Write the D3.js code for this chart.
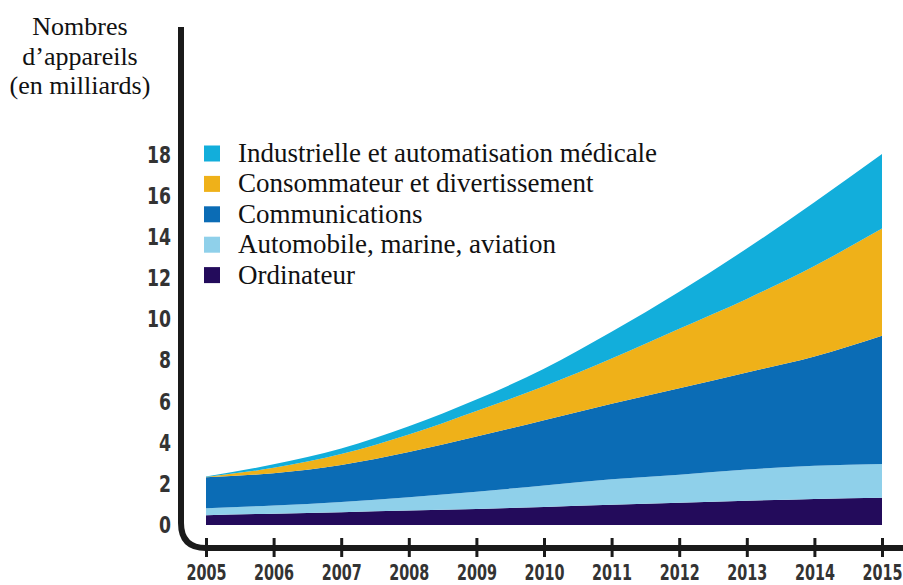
<!DOCTYPE html>
<html>
<head>
<meta charset="utf-8">
<script src="https://cdn.jsdelivr.net/npm/d3@7"></script>
<style>
  body { margin: 0; background: #fff; }
  .num { font-family: "Liberation Sans Narrow", "DejaVu Sans Condensed", sans-serif; font-stretch: condensed; font-weight: bold; }
  .serif { font-family: "Liberation Serif", "Times New Roman", serif; }
</style>
</head>
<body>
<div id="chart"></div>
<script>
// data (milliards d'appareils)
var years = [2005, 2006, 2007, 2008, 2009, 2010, 2011, 2012, 2013, 2014, 2015];
var ordinateur     = [0.48, 0.55, 0.62, 0.70, 0.78, 0.88, 0.98, 1.08, 1.18, 1.27, 1.33];
var automobile     = [0.34, 0.40, 0.50, 0.65, 0.84, 1.04, 1.24, 1.37, 1.52, 1.61, 1.64];
var communications = [1.50, 1.57, 1.80, 2.20, 2.68, 3.18, 3.68, 4.20, 4.72, 5.32, 6.24];
var consommateur   = [0.02, 0.26, 0.53, 0.85, 1.25, 1.65, 2.20, 2.90, 3.58, 4.40, 5.21];
var industrielle   = [0.02, 0.17, 0.27, 0.40, 0.55, 0.85, 1.30, 1.80, 2.45, 3.10, 3.63];
var yTicks = [0, 2, 4, 6, 8, 10, 12, 14, 16, 18];

// legend order top -> bottom
var legendNames = ["Industrielle et automatisation médicale", "Consommateur et divertissement",
  "Communications", "Automobile, marine, aviation", "Ordinateur"];
var keys = ["ordinateur", "automobile", "communications", "consommateur", "industrielle"];
var colors = {
  industrielle: "#12aedb",
  consommateur: "#efb119",
  communications: "#0b6cb5",
  automobile: "#8fd0ea",
  ordinateur: "#230b5b"
};
var legendKeys = ["industrielle", "consommateur", "communications", "automobile", "ordinateur"];

var width = 903, height = 585;

var svg = d3.select("#chart")
    .append("svg")
    .attr("width", width)
    .attr("height", height);

var x = d3.scaleLinear().domain([2005, 2015]).range([206, 882]);
var y = d3.scaleLinear().domain([0, 18]).range([525, 155]);

// build table for the stack
var table = years.map(function(yr, i) {
    return {
        year: yr,
        ordinateur: ordinateur[i],
        automobile: automobile[i],
        communications: communications[i],
        consommateur: consommateur[i],
        industrielle: industrielle[i]
    };
});

var stacked = d3.stack().keys(keys)(table);

var area = d3.area()
    .x(function(d) { return x(d.data.year); })
    .y0(function(d) { return y(d[0]); })
    .y1(function(d) { return y(d[1]); })
    .curve(d3.curveMonotoneX);

svg.append("g")
    .selectAll("path")
    .data(stacked)
    .enter()
    .append("path")
    .attr("d", area)
    .attr("fill", function(d) { return colors[d.key]; });

// axis line with rounded corner
var x0 = 181, yTop = 27, yBase = 548, r = 25;
svg.append("path")
    .attr("d", "M" + x0 + "," + yTop +
        " L" + x0 + "," + (yBase - r) +
        " Q" + x0 + "," + yBase + " " + (x0 + r) + "," + yBase +
        " L" + width + "," + yBase)
    .attr("fill", "none")
    .attr("stroke", "#1a1a1a")
    .attr("stroke-width", 6);

// x axis ticks + labels
var xAxis = svg.append("g")
    .attr("transform", "translate(0," + 538 + ")")
    .call(d3.axisBottom(x).tickValues(years).tickFormat(d3.format("d")).tickSize(19).tickPadding(8));
xAxis.select(".domain").remove();
xAxis.selectAll("line").attr("stroke", "#1a1a1a").attr("stroke-width", 3);
xAxis.selectAll("text")
    .attr("class", "num")
    .attr("font-size", 21)
    .attr("fill", "#333")
    .attr("textLength", 40)
    .attr("lengthAdjust", "spacingAndGlyphs");

// y axis labels
var yAxis = svg.append("g")
    .attr("transform", "translate(" + x0 + ",0)")
    .call(d3.axisLeft(y).tickValues(yTicks).tickSize(0).tickPadding(10));
yAxis.select(".domain").remove();
yAxis.selectAll("text")
    .attr("class", "num")
    .attr("font-size", 23)
    .attr("fill", "#333")
    .attr("textLength", function(d) { return String(d).length * 12; })
    .attr("lengthAdjust", "spacingAndGlyphs");

// title
var title = ["Nombres", "d\u2019appareils", "(en milliards)"];
svg.append("g")
    .selectAll("text")
    .data(title)
    .enter()
    .append("text")
    .attr("class", "serif")
    .attr("x", 80)
    .attr("y", function(d, i) { return 35 + i * 29.5; })
    .attr("text-anchor", "middle")
    .attr("font-size", 26)
    .attr("fill", "#111")
    .text(function(d) { return d; });

// legend
var legend = svg.append("g")
    .selectAll("g")
    .data(legendKeys)
    .enter()
    .append("g")
    .attr("transform", function(d, i) { return "translate(0," + (162 + i * 30.4) + ")"; });

legend.append("rect")
    .attr("x", 204)
    .attr("y", -16.5)
    .attr("width", 16)
    .attr("height", 16)
    .attr("fill", function(d) { return colors[d]; });

legend.append("text")
    .attr("class", "serif")
    .attr("x", 238)
    .attr("font-size", 27)
    .attr("fill", "#111")
    .text(function(d, i) { return legendNames[i]; });
</script>
</body>
</html>
